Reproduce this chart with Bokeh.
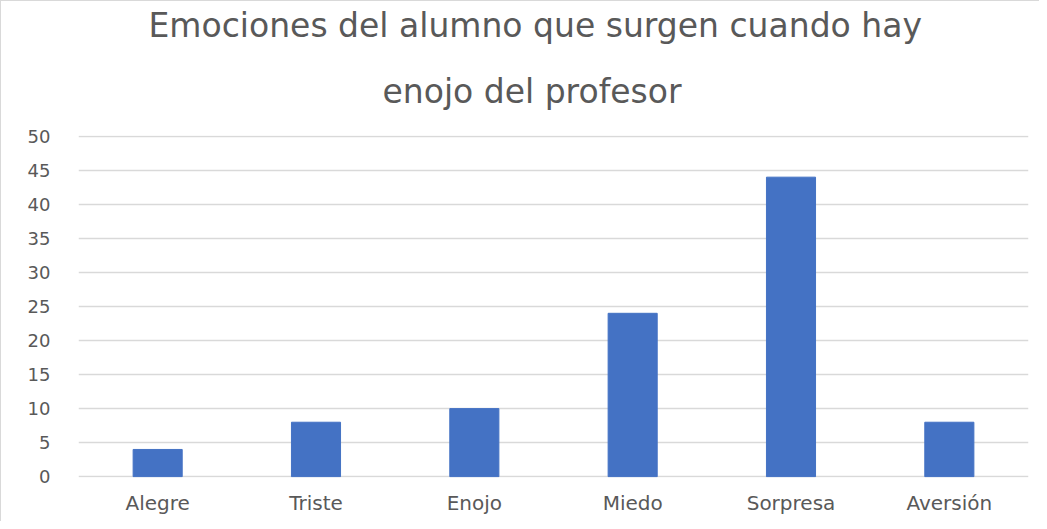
from bokeh.plotting import figure
from bokeh.models import Title, Range1d, FixedTicker, ColumnDataSource
from bokeh.embed import file_html
from bokeh.resources import INLINE

categories = ["Alegre", "Triste", "Enojo", "Miedo", "Sorpresa", "Aversión"]
values = [4, 8, 10, 24, 44, 8]
y_ticks = [0, 5, 10, 15, 20, 25, 30, 35, 40, 45, 50]
title_lines = ["Emociones del alumno que surgen cuando hay", "enojo del profesor"]

FONT = "DejaVu Sans"
GRAY = "#595959"

src = ColumnDataSource(dict(cat=categories, val=values))

p = figure(x_range=categories, width=1039, height=521, output_backend="svg",
           toolbar_location=None, min_border_left=77, min_border_right=12,
           min_border_top=134, min_border_bottom=45)
p.y_range = Range1d(-0.12, 50.12)
p.title = None

p.vbar(x="cat", top="val", width=0.31, source=src, color="#4472C4")

# title lines: nearest to the plot first
t2 = Title(text=title_lines[1], align="left", offset=304, standoff=50,
           text_font=FONT, text_font_size="33px", text_color=GRAY,
           text_font_style="normal")
t1 = Title(text=title_lines[0], align="left", offset=70, standoff=0,
           text_font=FONT, text_font_size="33px", text_color=GRAY,
           text_font_style="normal")
p.add_layout(t2, "above")
p.add_layout(t1, "above")

p.yaxis.ticker = FixedTicker(ticks=y_ticks)
p.yaxis.axis_line_color = None
p.yaxis.major_tick_line_color = None
p.yaxis.minor_tick_line_color = None
p.yaxis.major_label_text_font = FONT
p.yaxis.major_label_text_font_size = "18px"
p.yaxis.major_label_text_color = GRAY
p.yaxis.major_label_standoff = 22

p.xaxis.axis_line_color = None
p.xaxis.major_tick_line_color = None
p.xaxis.major_label_text_font = FONT
p.xaxis.major_label_text_font_size = "20px"
p.xaxis.major_label_text_color = GRAY
p.xaxis.major_label_standoff = 7

p.xgrid.grid_line_color = None
p.ygrid.grid_line_color = "#d9d9d9"
p.ygrid.grid_line_width = 1.5
p.outline_line_color = None
p.styles = {"border-left": "1px solid #d9d9d9", "border-top": "1px solid #d9d9d9"}

open("out.html", "w").write(file_html(p, INLINE))
